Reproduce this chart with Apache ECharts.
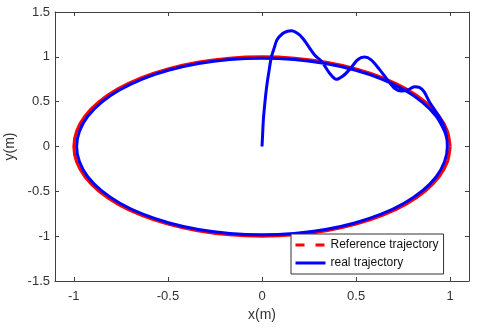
<!DOCTYPE html>
<html>
<head>
<meta charset="utf-8">
<script src="https://cdn.jsdelivr.net/npm/echarts@6/dist/echarts.min.js"></script>
<style>
  html, body { margin: 0; padding: 0; background: #fff; }
  #chart { width: 480px; height: 329px; }
</style>
</head>
<body>
<div id="chart"></div>
<script>
// reference trajectory (unit circle), read every 10 degrees
var refX = [1, 0.985, 0.94, 0.866, 0.766, 0.643, 0.5, 0.342, 0.174, 0,
  -0.174, -0.342, -0.5, -0.643, -0.766, -0.866, -0.94, -0.985, -1,
  -0.985, -0.94, -0.866, -0.766, -0.643, -0.5, -0.342, -0.174, 0,
  0.174, 0.342, 0.5, 0.643, 0.766, 0.866, 0.94, 0.985, 1];
var refY = [0, 0.174, 0.342, 0.5, 0.643, 0.766, 0.866, 0.94, 0.985, 1,
  0.985, 0.94, 0.866, 0.766, 0.643, 0.5, 0.342, 0.174, 0,
  -0.174, -0.342, -0.5, -0.643, -0.766, -0.866, -0.94, -0.985, -1,
  -0.985, -0.94, -0.866, -0.766, -0.643, -0.5, -0.342, -0.174, 0];

// real trajectory: start at origin, overshoot, oscillate, then loop clockwise
var realX = [0, 0.003, 0.007, 0.015, 0.025, 0.037, 0.05, 0.065, 0.08, 0.11, 0.135, 0.157, 0.19, 0.215, 0.236,
  0.28, 0.316, 0.36, 0.395, 0.43, 0.466, 0.51, 0.545, 0.58, 0.624, 0.668, 0.704, 0.74, 0.774,
  0.81, 0.836, 0.862, 0.889, 0.93, 0.96, 0.978, 0.985,
  0.97, 0.926, 0.853, 0.755, 0.633, 0.493, 0.337, 0.171, 0,
  -0.171, -0.337, -0.493, -0.633, -0.755, -0.853, -0.926, -0.97, -0.985,
  -0.97, -0.926, -0.853, -0.755, -0.633, -0.493, -0.337, -0.171, 0,
  0.171, 0.337, 0.493, 0.633, 0.755, 0.853, 0.926, 0.97, 0.983];
var realY = [0, 0.12, 0.29, 0.48, 0.67, 0.84, 1.0, 1.1, 1.19, 1.26, 1.285, 1.29, 1.26, 1.21, 1.15,
  1.02, 0.95, 0.815, 0.75, 0.787, 0.86, 0.97, 0.997, 0.966, 0.86, 0.74, 0.65, 0.62, 0.63,
  0.667, 0.66, 0.61, 0.5, 0.37, 0.26, 0.14, 0,
  -0.171, -0.337, -0.493, -0.633, -0.755, -0.853, -0.926, -0.97, -0.985,
  -0.97, -0.926, -0.853, -0.755, -0.633, -0.493, -0.337, -0.171, 0,
  0.171, 0.337, 0.493, 0.633, 0.755, 0.853, 0.926, 0.97, 0.985,
  0.97, 0.926, 0.853, 0.755, 0.633, 0.493, 0.337, 0.171, 0.08];

var xTicks = [-1, -0.5, 0, 0.5, 1];
var yTicks = [-1.5, -1, -0.5, 0, 0.5, 1, 1.5];

function pairs(xs, ys) {
  return xs.map(function (x, i) { return [x, ys[i]]; });
}

var axisColor = '#404040';
var font = 'Arial, "Liberation Sans", sans-serif';

var chart = echarts.init(document.getElementById('chart'));

var baseX = {
  type: 'value', min: -1.1, max: 1.1,
  axisLine: { show: true, onZero: false, lineStyle: { color: axisColor, width: 1 } },
  axisTick: { show: true, inside: true, length: 4, customValues: xTicks, lineStyle: { color: axisColor } },
  splitLine: { show: false }
};
var baseY = {
  type: 'value', min: -1.5, max: 1.5, interval: 0.5,
  axisLine: { show: true, onZero: false, lineStyle: { color: axisColor, width: 1 } },
  axisTick: { show: true, inside: true, length: 4, customValues: yTicks, lineStyle: { color: axisColor } },
  splitLine: { show: false }
};

chart.setOption({
  animation: false,
  backgroundColor: '#fff',
  grid: { left: 55, right: 11, top: 12, bottom: 48, outerBoundsMode: 'none', containLabel: false },
  legend: {
    orient: 'vertical',
    left: 291, top: 234,
    itemWidth: 30, itemHeight: 10, itemGap: 6,
    padding: [5, 5, 5, 3],
    borderColor: '#333', borderWidth: 1,
    backgroundColor: '#fff',
    textStyle: { fontFamily: font, fontSize: 12, color: '#111' },
    data: [
      { name: 'Reference trajectory', itemStyle: { opacity: 0 }, lineStyle: { type: [9, 11], width: 3 } },
      { name: 'real trajectory', itemStyle: { opacity: 0 }, lineStyle: { width: 3 } }
    ]
  },
  xAxis: [
    Object.assign({}, baseX, {
      position: 'bottom',
      name: 'x(m)', nameLocation: 'middle', nameGap: 26,
      nameTextStyle: { fontFamily: font, fontSize: 14, color: '#333' },
      axisLabel: { show: true, customValues: xTicks, margin: 9, fontFamily: font, fontSize: 13, color: '#333' }
    }),
    Object.assign({}, baseX, { position: 'top', axisLabel: { show: false } })
  ],
  yAxis: [
    Object.assign({}, baseY, {
      position: 'left',
      name: 'y(m)', nameLocation: 'middle', nameGap: 33,
      nameTextStyle: { fontFamily: font, fontSize: 14, color: '#333' },
      axisLabel: { show: true, customValues: yTicks, margin: 5, fontFamily: font, fontSize: 13, color: '#333' }
    }),
    Object.assign({}, baseY, { position: 'right', axisLabel: { show: false } })
  ],
  series: [
    {
      name: 'Reference trajectory', type: 'line',
      data: pairs(refX, refY),
      smooth: 0.3, symbol: 'none', showSymbol: false,
      lineStyle: { color: '#ff0000', width: 3 },
      itemStyle: { color: '#ff0000' }
    },
    {
      name: 'real trajectory', type: 'line',
      data: pairs(realX, realY),
      smooth: 0.3, symbol: 'none', showSymbol: false,
      lineStyle: { color: '#0000ff', width: 3 },
      itemStyle: { color: '#0000ff' }
    }
  ]
});
</script>
</body>
</html>
